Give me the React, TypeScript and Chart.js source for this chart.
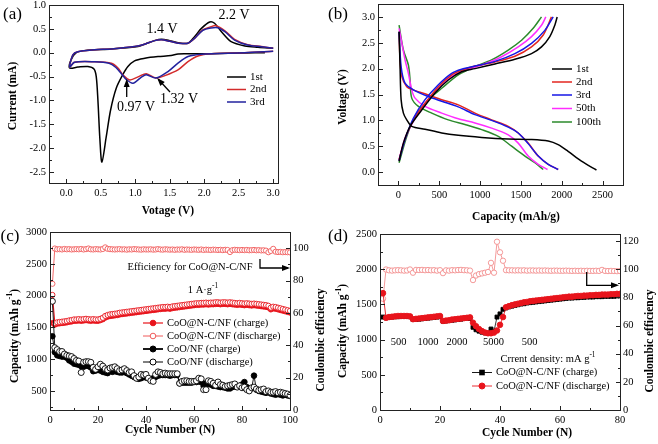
import React, { useEffect, useRef } from 'react';
import { Chart, registerables } from 'chart.js';

Chart.register(...registerables);

const SERIF = "'Liberation Serif', 'Times New Roman', serif";

// ---------------- Panel (a): cyclic voltammetry ----------------
const cvBlackV = [2.88, 2.6, 2.1, 1.8, 1.62, 1.52, 1.33, 1.14, 0.99, 0.894, 0.82, 0.726, 0.643, 0.58, 0.517, 0.488, 0.459, 0.435, 0.402, 0.314, 0.169, 0.048, 0.07, 0.145, 0.266, 0.653, 1.04, 1.136, 1.28, 1.38, 1.5, 1.62, 1.765, 1.86, 1.96, 2.08, 2.15, 2.25, 2.39, 2.59, 2.78, 3.0];
const cvBlackI = [0.0, -0.005, -0.02, -0.022, -0.025, -0.06, -0.08, -0.115, -0.17, -0.29, -0.46, -0.74, -1.2, -1.76, -2.29, -1.82, -0.99, -0.5, -0.34, -0.29, -0.3, -0.32, -0.15, 0.0, 0.044, 0.08, 0.128, 0.178, 0.253, 0.282, 0.253, 0.21, 0.2, 0.337, 0.51, 0.644, 0.617, 0.44, 0.232, 0.142, 0.115, 0.094];
const cvRedV = [3.0, 2.59, 2.1, 1.91, 1.765, 1.62, 1.43, 1.3, 1.16, 1.05, 0.92, 0.82, 0.75, 0.653, 0.41, 0.12, 0.05, 0.096, 0.169, 0.41, 0.653, 0.99, 1.136, 1.28, 1.38, 1.5, 1.62, 1.765, 1.86, 1.98, 2.1, 2.17, 2.3, 2.44, 2.63, 2.83, 3.0];
const cvRedI = [0.03, 0.0, -0.02, -0.067, -0.186, -0.36, -0.48, -0.53, -0.44, -0.5, -0.57, -0.46, -0.32, -0.22, -0.19, -0.2, -0.3, -0.046, 0.02, 0.06, 0.08, 0.128, 0.178, 0.253, 0.27, 0.24, 0.2, 0.2, 0.3, 0.477, 0.546, 0.567, 0.46, 0.28, 0.17, 0.128, 0.094];
const cvBlueV = [3.0, 2.59, 1.96, 1.765, 1.62, 1.475, 1.3, 1.16, 1.09, 0.967, 0.87, 0.8, 0.72, 0.62, 0.41, 0.12, 0.05, 0.096, 0.169, 0.41, 0.653, 0.99, 1.136, 1.28, 1.38, 1.5, 1.62, 1.765, 1.86, 1.98, 2.1, 2.2, 2.3, 2.44, 2.63, 2.83, 3.0];
const cvBlueI = [0.03, 0.0, -0.03, -0.08, -0.22, -0.395, -0.53, -0.46, -0.51, -0.64, -0.56, -0.44, -0.31, -0.22, -0.19, -0.2, -0.3, -0.046, 0.02, 0.06, 0.08, 0.128, 0.178, 0.253, 0.27, 0.24, 0.2, 0.2, 0.3, 0.47, 0.52, 0.525, 0.44, 0.265, 0.16, 0.125, 0.094];

// ---------------- Panel (b): charge / discharge profiles ----------------
const b1DisCap = [8, 20, 33, 61, 102, 163, 326, 530, 733, 1019, 1345, 1630, 1834, 1956, 2078, 2241, 2425];
const b1DisV = [2.72, 2.04, 1.4, 1.14, 1.01, 0.885, 0.83, 0.756, 0.71, 0.67, 0.64, 0.63, 0.6, 0.53, 0.4, 0.21, 0.04];
const b1ChgCap = [8, 61, 143, 285, 448, 611, 774, 937, 1182, 1426, 1630, 1752, 1854, 1915, 1944];
const b1ChgV = [0.21, 0.56, 0.885, 1.2, 1.53, 1.78, 1.94, 2.0, 2.09, 2.18, 2.29, 2.42, 2.62, 2.84, 3.0];
const b2DisCap = [8, 20, 41, 102, 183, 367, 530, 733, 937, 1141, 1345, 1467, 1589, 1712, 1834, 1956];
const b2DisV = [2.71, 2.17, 1.85, 1.65, 1.59, 1.49, 1.4, 1.3, 1.14, 1.01, 0.885, 0.756, 0.56, 0.31, 0.15, 0.05];
const b2ChgCap = [8, 81, 183, 326, 489, 652, 774, 937, 1182, 1426, 1630, 1773, 1874];
const b2ChgV = [0.24, 0.63, 1.01, 1.33, 1.65, 1.88, 1.97, 2.05, 2.13, 2.24, 2.42, 2.65, 3.0];
const b3DisCap = [8, 33, 81, 183, 367, 530, 733, 937, 1141, 1345, 1467, 1589, 1712, 1834, 1956];
const b3DisV = [2.71, 2.04, 1.72, 1.59, 1.46, 1.37, 1.26, 1.11, 1.0, 0.87, 0.756, 0.55, 0.31, 0.15, 0.05];
const b3ChgCap = [8, 81, 183, 326, 489, 652, 774, 937, 1182, 1426, 1630, 1793, 1895];
const b3ChgV = [0.22, 0.63, 1.04, 1.4, 1.69, 1.91, 1.99, 2.05, 2.14, 2.29, 2.49, 2.74, 3.0];
const b50DisCap = [8, 81, 122, 163, 204, 326, 530, 733, 937, 1141, 1345, 1467, 1589, 1712, 1826];
const b50DisV = [2.78, 2.17, 1.91, 1.59, 1.43, 1.27, 1.14, 1.03, 0.95, 0.85, 0.72, 0.56, 0.31, 0.15, 0.05];
const b50ChgCap = [8, 81, 204, 326, 489, 652, 815, 1019, 1263, 1467, 1630, 1752, 1805];
const b50ChgV = [0.24, 0.66, 1.04, 1.33, 1.62, 1.85, 1.97, 2.07, 2.23, 2.42, 2.62, 2.84, 3.0];
const b100DisCap = [8, 61, 122, 143, 163, 245, 408, 611, 815, 1019, 1223, 1386, 1549, 1671, 1773];
const b100DisV = [2.84, 2.36, 2.07, 1.78, 1.43, 1.27, 1.14, 1.01, 0.92, 0.82, 0.69, 0.5, 0.31, 0.18, 0.05];
const b100ChgCap = [8, 102, 204, 367, 530, 733, 937, 1141, 1345, 1508, 1650, 1752];
const b100ChgV = [0.18, 0.69, 1.08, 1.4, 1.62, 1.88, 2.04, 2.17, 2.36, 2.55, 2.78, 3.0];

// ---------------- Panel (c): cycling at 1 A/g ----------------
const cyclesC = Array.from({ length: 100 }, (_, i) => i + 1);
const cnChgC = [1570, 1540, 1555, 1560, 1565, 1570, 1575, 1585, 1590, 1600,
  1600, 1605, 1600, 1605, 1610, 1605, 1600, 1605, 1600, 1600,
  1610, 1625, 1650, 1665, 1675, 1680, 1685, 1690, 1700, 1705,
  1710, 1715, 1720, 1725, 1730, 1735, 1740, 1745, 1750, 1755,
  1760, 1765, 1770, 1775, 1780, 1785, 1790, 1790, 1795, 1790,
  1800, 1805, 1810, 1815, 1820, 1825, 1830, 1835, 1840, 1845,
  1850, 1850, 1855, 1855, 1860, 1855, 1860, 1860, 1865, 1865,
  1860, 1865, 1865, 1860, 1865, 1860, 1855, 1850, 1855, 1850,
  1845, 1850, 1845, 1840, 1845, 1840, 1835, 1830, 1825, 1820,
  1810, 1780, 1795, 1790, 1780, 1770, 1760, 1750, 1740, 1730];
const cnDisC = [2010, 1565, 1580, 1585, 1590, 1595, 1600, 1610, 1615, 1625,
  1625, 1630, 1625, 1630, 1635, 1630, 1625, 1630, 1625, 1625,
  1635, 1650, 1680, 1695, 1705, 1710, 1715, 1720, 1730, 1735,
  1740, 1745, 1750, 1755, 1760, 1765, 1770, 1775, 1780, 1785,
  1790, 1795, 1800, 1805, 1810, 1815, 1820, 1820, 1825, 1820,
  1830, 1835, 1840, 1845, 1850, 1855, 1860, 1865, 1870, 1875,
  1880, 1880, 1885, 1885, 1890, 1885, 1890, 1890, 1895, 1895,
  1890, 1895, 1895, 1890, 1895, 1890, 1885, 1880, 1885, 1880,
  1875, 1880, 1875, 1870, 1875, 1870, 1865, 1860, 1855, 1850,
  1840, 1810, 1825, 1820, 1810, 1800, 1790, 1780, 1770, 1760];
const effC = [78, 99.8, 99.3, 99.4, 99.2, 99.5, 99.3, 99.4, 99.2, 99.3,
  99.4, 99.3, 99.5, 99.2, 99.4, 99.8, 99.3, 99.2, 99.4, 99.3,
  99.2, 99.5, 100.5, 99.6, 99.4, 99.3, 99.2, 99.3, 99.4, 99.2,
  99.3, 99.1, 99.3, 99.2, 99.4, 99.3, 99.2, 99.1, 99.3, 99.2,
  99.2, 99.3, 99.1, 99.2, 99.4, 99.2, 99.1, 99.3, 99.2, 99.1,
  99.2, 99.0, 99.2, 99.1, 99.3, 99.0, 99.2, 99.1, 99.0, 99.2,
  99.1, 99.0, 99.2, 98.9, 99.1, 99.0, 98.9, 99.1, 99.0, 98.9,
  99.0, 98.8, 99.0, 98.9, 97.6, 98.8, 99.0, 98.9, 98.8, 98.9,
  98.8, 98.9, 98.7, 98.8, 98.9, 98.7, 98.8, 98.6, 98.7, 98.5,
  97.5, 98.3, 99.6, 97.8, 97.6, 97.7, 97.5, 97.6, 97.5, 97.4];
const coChgC = [1360, 1110, 1060, 1050, 1040, 1040, 1020, 980, 960, 930,
  920, 910, 890, 880, 900, 890, 870, 810, 820, 830,
  820, 800, 790, 780, 810, 800, 810, 800, 790, 790,
  800, 780, 760, 740, 720, 700, 690, 700, 720, 710,
  700, 680, 700, 720, 740, 750, 750, 750, 750, 740,
  750, 750, 750, 620, 630, 630, 630, 630, 630, 640,
  640, 650, 640, 580, 620, 610, 600, 580, 580, 570,
  560, 560, 550, 540, 540, 560, 570, 570, 580, 600,
  640, 560, 540, 540, 740, 520, 500, 490, 480, 470,
  480, 460, 450, 440, 450, 440, 430, 440, 430, 420];
const coDisC = [1910, 1180, 1150, 1120, 1120, 1080, 1060, 1050, 1040, 1010,
  980, 970, 790, 950, 960, 960, 950, 870, 840, 880,
  920, 890, 850, 830, 860, 870, 880, 850, 820, 830,
  850, 820, 790, 800, 740, 700, 720, 760, 750, 760,
  700, 660, 650, 760, 800, 790, 770, 780, 770, 770,
  770, 770, 770, 620, 650, 660, 660, 650, 650, 650,
  660, 700, 690, 520, 520, 660, 650, 620, 590, 640,
  600, 590, 570, 580, 590, 600, 610, 560, 580, 550,
  560, 520, 500, 550, 560, 530, 510, 520, 530, 490,
  500, 480, 480, 490, 470, 480, 470, 460, 450, 430];

// ---------------- Panel (d): rate capability ----------------
const cyclesD = Array.from({ length: 80 }, (_, i) => i + 1);
const chgD = [1320, 1310, 1315, 1320, 1325, 1325, 1330, 1330, 1330, 1325,
  1285, 1285, 1290, 1295, 1300, 1305, 1310, 1315, 1320, 1325,
  1260, 1265, 1270, 1275, 1280, 1285, 1290, 1300, 1305, 1300,
  1175, 1140, 1120, 1105, 1095, 1090, 1150, 1120, 1320, 1365,
  1430, 1450, 1465, 1475, 1485, 1495, 1505, 1510, 1520, 1525,
  1530, 1535, 1540, 1545, 1550, 1555, 1560, 1565, 1570, 1575,
  1580, 1585, 1590, 1590, 1595, 1595, 1600, 1600, 1605, 1605,
  1605, 1610, 1610, 1610, 1615, 1615, 1615, 1615, 1620, 1620];
const disD = [1660, 1310, 1320, 1325, 1330, 1335, 1335, 1335, 1335, 1330,
  1290, 1295, 1300, 1305, 1310, 1315, 1320, 1325, 1330, 1335,
  1265, 1270, 1275, 1285, 1290, 1295, 1300, 1305, 1310, 1315,
  1240, 1190, 1150, 1120, 1100, 1090, 1090, 1100, 1130, 1210,
  1320, 1460, 1475, 1490, 1500, 1510, 1520, 1530, 1535, 1545,
  1550, 1555, 1560, 1565, 1570, 1575, 1580, 1585, 1590, 1595,
  1600, 1605, 1610, 1610, 1615, 1620, 1620, 1625, 1625, 1630,
  1630, 1635, 1635, 1640, 1640, 1640, 1645, 1645, 1650, 1650];
const effD = [79, 99.8, 99.2, 99.0, 99.2, 99.3, 99.2, 99.0, 99.1, 99.8,
  97.5, 99.5, 99.4, 99.5, 99.3, 99.4, 99.2, 99.3, 99.0, 99.3,
  97.2, 99.2, 99.0, 99.3, 99.2, 99.4, 99.5, 99.3, 99.2, 99.0,
  92.3, 95.5, 96.5, 97.0, 97.5, 98.0, 104.5, 97.5, 119.5, 112,
  106, 99.3, 99.2, 99.2, 99.1, 99.2, 99.1, 99.2, 99.0, 99.1,
  99.1, 99.0, 99.1, 99.0, 99.1, 99.0, 98.9, 99.0, 99.0, 98.9,
  98.9, 99.0, 98.9, 98.8, 98.9, 98.8, 98.9, 98.8, 98.9, 98.8,
  98.8, 98.9, 98.8, 99.5, 98.8, 98.7, 98.8, 98.7, 98.6, 98.7];
const rateLabels = ['500', '1000', '2000', '5000', '500'];

// ---------------- helpers ----------------
const pts = (xs: number[], ys: number[]) => xs.map((x, i) => ({ x, y: ys[i] }));

type Part = { t: string; sup?: boolean };
type TextSpec = { x: number; y: number; parts: Part[]; size: number; bold?: boolean; rotate?: boolean; align?: 'left' | 'center' };
type LegendSpec = { x1: number; x2: number; y: number; text: string; color: string; marker?: 'circle' | 'rect'; fill?: string; r?: number; lw?: number; size: number };
type AxisSpec = { id: string; side: 'bottom' | 'left' | 'right'; minor: number };
type Decor = { axes: AxisSpec[]; texts: TextSpec[]; legend: LegendSpec[]; arrows: number[][][] };

const P = (t: string): Part[] => [{ t }];

function drawRich(ctx: CanvasRenderingContext2D, s: TextSpec) {
  const font = (sup?: boolean) => `${s.bold ? 'bold ' : ''}${sup ? s.size * 0.7 : s.size}px ${SERIF}`;
  let total = 0;
  const widths = s.parts.map((p) => {
    ctx.font = font(p.sup);
    const w = ctx.measureText(p.t).width;
    total += w;
    return w;
  });
  ctx.save();
  ctx.translate(s.x, s.y);
  if (s.rotate) ctx.rotate(-Math.PI / 2);
  ctx.fillStyle = '#000';
  ctx.textBaseline = 'middle';
  ctx.textAlign = 'left';
  let x = s.align === 'left' ? 0 : -total / 2;
  s.parts.forEach((p, i) => {
    ctx.font = font(p.sup);
    ctx.fillText(p.t, x, p.sup ? -s.size * 0.4 : 0);
    x += widths[i];
  });
  ctx.restore();
}

function makeDecor(d: Decor) {
  return {
    id: 'decor',
    afterDraw(chart: any) {
      const ctx: CanvasRenderingContext2D = chart.ctx;
      const a = chart.chartArea;
      ctx.save();
      ctx.strokeStyle = '#222';
      ctx.lineWidth = 1;
      const L = Math.round(a.left) + 0.5, T = Math.round(a.top) + 0.5;
      const R = Math.round(a.right) + 0.5, B = Math.round(a.bottom) + 0.5;
      ctx.strokeRect(L, T, R - L, B - T);
      for (const ax of d.axes) {
        const s = chart.scales[ax.id];
        const majors: number[] = s.ticks.map((t: any) => t.value);
        const tick = (v: number, len: number) => {
          const p = Math.round(s.getPixelForValue(v)) + 0.5;
          ctx.beginPath();
          if (ax.side === 'bottom') { ctx.moveTo(p, B); ctx.lineTo(p, B - len); }
          else if (ax.side === 'left') { ctx.moveTo(L, p); ctx.lineTo(L + len, p); }
          else { ctx.moveTo(R, p); ctx.lineTo(R - len, p); }
          ctx.stroke();
        };
        majors.forEach((v) => tick(v, 4.5));
        if (ax.minor) {
          const k0 = Math.ceil(s.min / ax.minor - 1e-9);
          const k1 = Math.floor(s.max / ax.minor + 1e-9);
          for (let k = k0; k <= k1; k++) {
            const v = k * ax.minor;
            if (!majors.some((m) => Math.abs(m - v) < ax.minor / 10)) tick(v, 2.5);
          }
        }
      }
      for (const lg of d.legend) {
        ctx.strokeStyle = lg.color;
        ctx.lineWidth = lg.lw ?? 1.5;
        ctx.beginPath();
        ctx.moveTo(lg.x1, lg.y);
        ctx.lineTo(lg.x2, lg.y);
        ctx.stroke();
        const cx = (lg.x1 + lg.x2) / 2;
        const r = lg.r ?? 3;
        if (lg.marker === 'circle') {
          ctx.beginPath();
          ctx.arc(cx, lg.y, r, 0, Math.PI * 2);
          ctx.fillStyle = lg.fill ?? lg.color;
          ctx.fill();
          ctx.lineWidth = 1;
          ctx.stroke();
        } else if (lg.marker === 'rect') {
          ctx.fillStyle = lg.fill ?? lg.color;
          ctx.fillRect(cx - r, lg.y - r, 2 * r, 2 * r);
        }
        drawRich(ctx, { x: lg.x2 + 4, y: lg.y, parts: P(lg.text), size: lg.size, align: 'left' });
      }
      for (const arr of d.arrows) {
        ctx.strokeStyle = '#000';
        ctx.fillStyle = '#000';
        ctx.lineWidth = 1.3;
        ctx.beginPath();
        arr.forEach((p, i) => (i === 0 ? ctx.moveTo(p[0], p[1]) : ctx.lineTo(p[0], p[1])));
        ctx.stroke();
        const e = arr[arr.length - 1], f = arr[arr.length - 2];
        const ang = Math.atan2(e[1] - f[1], e[0] - f[0]);
        ctx.beginPath();
        ctx.moveTo(e[0] + Math.cos(ang) * 2, e[1] + Math.sin(ang) * 2);
        ctx.lineTo(e[0] - Math.cos(ang) * 6 + Math.sin(ang) * 3, e[1] - Math.sin(ang) * 6 - Math.cos(ang) * 3);
        ctx.lineTo(e[0] - Math.cos(ang) * 6 - Math.sin(ang) * 3, e[1] - Math.sin(ang) * 6 + Math.cos(ang) * 3);
        ctx.closePath();
        ctx.fill();
      }
      for (const t of d.texts) drawRich(ctx, t);
      ctx.restore();
    },
  };
}

const fix1 = (v: any) => Number(v).toFixed(1);
const plain = (v: any) => String(Math.round(Number(v)));

function scale(position: string, min: number, max: number, step: number, fmt: any, size: number, thick: number) {
  const horizontal = position === 'bottom';
  return {
    type: 'linear',
    position,
    min,
    max,
    grid: { display: false, drawTicks: false },
    border: { display: false },
    ticks: {
      autoSkip: false,
      maxRotation: 0,
      padding: horizontal ? 4 : 3,
      color: '#000',
      font: { family: SERIF, size },
      callback: fmt,
    },
    afterBuildTicks: (s: any) => {
      const out: { value: number }[] = [];
      const k0 = Math.ceil(min / step - 1e-9);
      const k1 = Math.floor(max / step + 1e-9);
      for (let k = k0; k <= k1; k++) out.push({ value: Math.round(k * step * 1e6) / 1e6 });
      s.ticks = out;
    },
    afterFit: (s: any) => {
      if (horizontal) s.height = thick; else s.width = thick;
      s.paddingTop = 0; s.paddingBottom = 0; s.paddingLeft = 0; s.paddingRight = 0;
    },
  };
}

function baseOptions(padding: any, scales: any) {
  return {
    responsive: false,
    maintainAspectRatio: false,
    animation: false,
    devicePixelRatio: 1,
    events: [],
    layout: { padding },
    plugins: { legend: { display: false }, tooltip: { enabled: false } },
    scales,
  };
}

const curve = (xs: number[], ys: number[], color: string, width = 1.5) => ({
  data: pts(xs, ys), showLine: true, borderColor: color, backgroundColor: color,
  borderWidth: width, pointRadius: 0, tension: 0.3, fill: false,
});

const marks = (xs: number[], ys: number[], color: string, fill: string, style: string, r: number, lw: number, axis = 'y') => ({
  data: pts(xs, ys), showLine: true, yAxisID: axis, borderColor: color, borderWidth: lw,
  pointStyle: style, pointRadius: r, pointBackgroundColor: fill, pointBorderColor: color,
  pointBorderWidth: 0.9, tension: 0, fill: false,
});

const RED_A = '#d32b2b', BLUE_A = '#22229e';
const RED_B = '#e3261f', BLUE_B = '#1616e6', MAG_B = '#ff2cff', GRN_B = '#2b8a2b';
const RED = '#e8141c', PINK_C = '#f05a5a', PINK_D = '#f39090';

function chartA(cv: HTMLCanvasElement) {
  return new Chart(cv, {
    type: 'scatter',
    data: {
      datasets: [
        curve(cvBlueV, cvBlueI, BLUE_A),
        curve(cvRedV, cvRedI, RED_A),
        curve(cvBlackV, cvBlackI, '#000'),
      ],
    },
    options: baseOptions({ left: 9, right: 380, top: 5, bottom: 241 }, {
      x: scale('bottom', -0.25, 3.07, 0.5, fix1, 10.5, 20),
      y: scale('left', -2.73, 1.0, 0.5, fix1, 10.5, 40),
    }) as any,
    plugins: [makeDecor({
      axes: [{ id: 'x', side: 'bottom', minor: 0.25 }, { id: 'y', side: 'left', minor: 0.25 }],
      legend: [
        { x1: 227, x2: 246, y: 77, text: '1st', color: '#000', size: 11 },
        { x1: 227, x2: 246, y: 89.5, text: '2nd', color: RED_A, size: 11 },
        { x1: 227, x2: 246, y: 102, text: '3rd', color: BLUE_A, size: 11 },
      ],
      arrows: [[[126.7, 97], [126.7, 81]], [[170, 92], [158.5, 79.5]]],
      texts: [
        { x: 12.5, y: 15, parts: P('(a)'), size: 17 },
        { x: 13.5, y: 96, parts: P('Current (mA)'), size: 11.5, bold: true, rotate: true },
        { x: 168, y: 211, parts: P('Votage (V)'), size: 11.5, bold: true },
        { x: 234, y: 15.5, parts: P('2.2 V'), size: 14 },
        { x: 162, y: 29.5, parts: P('1.4 V'), size: 14 },
        { x: 136, y: 107.5, parts: P('0.97 V'), size: 14 },
        { x: 179, y: 99, parts: P('1.32 V'), size: 14 },
      ],
    })],
  } as any);
}

function chartB(cv: HTMLCanvasElement) {
  return new Chart(cv, {
    type: 'scatter',
    data: {
      datasets: [
        curve(b1DisCap, b1DisV, '#000'), curve(b1ChgCap, b1ChgV, '#000'),
        curve(b3DisCap, b3DisV, BLUE_B), curve(b3ChgCap, b3ChgV, BLUE_B),
        curve(b2DisCap, b2DisV, RED_B), curve(b2ChgCap, b2ChgV, RED_B),
        curve(b50DisCap, b50DisV, MAG_B), curve(b50ChgCap, b50ChgV, MAG_B),
        curve(b100DisCap, b100DisV, GRN_B), curve(b100ChgCap, b100ChgV, GRN_B),
      ],
    },
    options: baseOptions({ left: 338, right: 35, top: 4, bottom: 239 }, {
      x: scale('bottom', -250, 2750, 500, plain, 10.5, 20),
      y: scale('left', -0.25, 3.25, 0.5, fix1, 10.5, 40),
    }) as any,
    plugins: [makeDecor({
      axes: [{ id: 'x', side: 'bottom', minor: 250 }, { id: 'y', side: 'left', minor: 0.25 }],
      legend: [
        { x1: 552, x2: 572, y: 69, text: '1st', color: '#000', size: 11 },
        { x1: 552, x2: 572, y: 82, text: '2nd', color: RED_B, size: 11 },
        { x1: 552, x2: 572, y: 95, text: '3rd', color: BLUE_B, size: 11 },
        { x1: 552, x2: 572, y: 108.5, text: '50th', color: MAG_B, size: 11 },
        { x1: 552, x2: 572, y: 122, text: '100th', color: GRN_B, size: 11 },
      ],
      arrows: [],
      texts: [
        { x: 338, y: 15, parts: P('(b)'), size: 17 },
        { x: 343, y: 97, parts: P('Voltage (V)'), size: 11.5, bold: true, rotate: true },
        { x: 516, y: 217, parts: P('Capacity (mAh/g)'), size: 11.5, bold: true },
      ],
    })],
  } as any);
}

function chartC(cv: HTMLCanvasElement) {
  return new Chart(cv, {
    type: 'scatter',
    data: {
      datasets: [
        marks(cyclesC, coDisC, '#000', '#fff', 'circle', 3, 0.9),
        marks(cyclesC, coChgC, '#000', '#000', 'circle', 2.8, 0.9),
        marks(cyclesC, cnDisC, RED, '#fff', 'circle', 2.6, 1.2),
        marks(cyclesC, cnChgC, RED, RED, 'circle', 2.5, 1.4),
        marks(cyclesC, effC, PINK_C, '#fff', 'circle', 2.6, 0.9, 'y2'),
      ],
    },
    options: baseOptions({ left: 10, right: 338, top: 232, bottom: 14 }, {
      x: scale('bottom', 0, 100, 20, plain, 10.5, 20),
      y: scale('left', 200, 3000, 500, plain, 10.5, 40),
      y2: scale('right', 0, 110, 20, plain, 10.5, 30),
    }) as any,
    plugins: [makeDecor({
      axes: [{ id: 'x', side: 'bottom', minor: 10 }, { id: 'y', side: 'left', minor: 250 }, { id: 'y2', side: 'right', minor: 10 }],
      legend: [
        { x1: 143, x2: 163, y: 323, text: 'CoO@N-C/NF (charge)', color: RED, marker: 'circle', r: 2.8, size: 10.5, lw: 1.2 },
        { x1: 143, x2: 163, y: 336, text: 'CoO@N-C/NF (discharge)', color: PINK_C, marker: 'circle', fill: '#fff', r: 2.8, size: 10.5, lw: 1 },
        { x1: 143, x2: 163, y: 349, text: 'CoO/NF (charge)', color: '#000', marker: 'circle', r: 3, size: 10.5, lw: 1.8 },
        { x1: 143, x2: 163, y: 362, text: 'CoO/NF (discharge)', color: '#000', marker: 'circle', fill: '#fff', r: 3, size: 10.5, lw: 1 },
      ],
      arrows: [[[260, 259], [260, 268], [288, 268]]],
      texts: [
        { x: 10, y: 237, parts: P('(c)'), size: 17 },
        { x: 15, y: 336, parts: [{ t: 'Capacity (mAh g' }, { t: '-1', sup: true }, { t: ')' }], size: 11.5, bold: true, rotate: true },
        { x: 170, y: 430, parts: P('Cycle Number (N)'), size: 11.5, bold: true },
        { x: 321, y: 340, parts: P('Coulombic efficiency'), size: 11.5, bold: true, rotate: true },
        { x: 190, y: 267, parts: P('Efficiency for CoO@N-C/NF'), size: 10.5 },
        { x: 203, y: 290, parts: [{ t: '1 A·g' }, { t: '-1', sup: true }], size: 10.5 },
      ],
    })],
  } as any);
}

function chartD(cv: HTMLCanvasElement) {
  return new Chart(cv, {
    type: 'scatter',
    data: {
      datasets: [
        marks(cyclesD, disD, RED, RED, 'circle', 2.8, 0.9),
        marks(cyclesD, chgD, '#000', '#000', 'rect', 2.8, 0.8),
        marks(cyclesD, effD, PINK_D, '#fff', 'circle', 2.7, 0.9, 'y2'),
      ],
    },
    options: baseOptions({ left: 340, right: 8, top: 234, bottom: 14 }, {
      x: scale('bottom', 0, 80, 20, plain, 10.5, 20),
      y: scale('left', 0, 2500, 500, plain, 10.5, 40),
      y2: scale('right', 0, 125, 20, plain, 10.5, 30),
    }) as any,
    plugins: [makeDecor({
      axes: [{ id: 'x', side: 'bottom', minor: 10 }, { id: 'y', side: 'left', minor: 250 }, { id: 'y2', side: 'right', minor: 10 }],
      legend: [
        { x1: 472, x2: 492, y: 372.5, text: 'CoO@N-C/NF (charge)', color: '#000', marker: 'rect', r: 2.8, size: 10.5, lw: 0.9 },
        { x1: 472, x2: 492, y: 386, text: 'CoO@N-C/NF (discharge)', color: RED, marker: 'circle', r: 3, size: 10.5, lw: 0.9 },
      ],
      arrows: [[[586.7, 272], [586.7, 285.3], [617, 285.3]]],
      texts: [
        { x: 338, y: 237, parts: P('(d)'), size: 17 },
        { x: 343.5, y: 331, parts: [{ t: 'Capacity (mAh g' }, { t: '-1', sup: true }, { t: ')' }], size: 11.5, bold: true, rotate: true },
        { x: 527, y: 433.5, parts: P('Cycle Number (N)'), size: 11.5, bold: true },
        { x: 650, y: 341, parts: P('Coulombic efficiency'), size: 11.5, bold: true, rotate: true },
        { x: 548, y: 359, parts: [{ t: 'Crrent density: mA g' }, { t: '-1', sup: true }], size: 10.5 },
        { x: 398.5, y: 342, parts: P(rateLabels[0]), size: 10.5 },
        { x: 428, y: 342, parts: P(rateLabels[1]), size: 10.5 },
        { x: 457, y: 342, parts: P(rateLabels[2]), size: 10.5 },
        { x: 493.5, y: 342, parts: P(rateLabels[3]), size: 10.5 },
        { x: 529.5, y: 342, parts: P(rateLabels[4]), size: 10.5 },
      ],
    })],
  } as any);
}

export default function App() {
  const ra = useRef<HTMLCanvasElement>(null);
  const rb = useRef<HTMLCanvasElement>(null);
  const rc = useRef<HTMLCanvasElement>(null);
  const rd = useRef<HTMLCanvasElement>(null);
  useEffect(() => {
    const charts = [chartA(ra.current!), chartB(rb.current!), chartC(rc.current!), chartD(rd.current!)];
    return () => charts.forEach((c) => c.destroy());
  }, []);
  const cs: React.CSSProperties = { position: 'absolute', left: 0, top: 0, width: 658, height: 444 };
  return (
    <div style={{ position: 'absolute', left: 0, top: 0, width: 658, height: 444, background: '#fff', overflow: 'hidden' }}>
      <canvas ref={ra} width={658} height={444} style={cs} />
      <canvas ref={rb} width={658} height={444} style={cs} />
      <canvas ref={rc} width={658} height={444} style={cs} />
      <canvas ref={rd} width={658} height={444} style={cs} />
    </div>
  );
}
